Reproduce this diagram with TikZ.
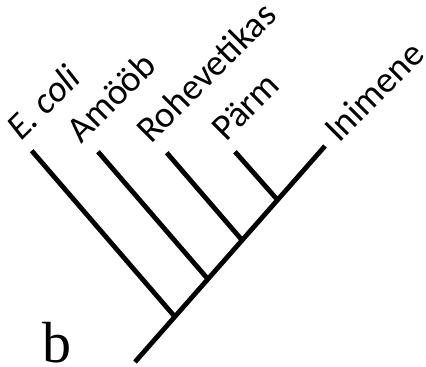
\documentclass[tikz,border=0pt]{standalone}
\usepackage{fontspec}
\setmainfont{Carlito}
\newfontfamily\letterfont{Liberation Serif}
\begin{document}
\begin{tikzpicture}[x=1pt,y=-1pt,
  branch/.style={line width=4.8pt},
  taxon/.style={rotate=45,anchor=base west,inner sep=0pt,font=\fontsize{37}{42}\selectfont},
  panel/.style={anchor=base west,inner sep=0pt,font=\letterfont\fontsize{58}{62}\selectfont}]
\useasboundingbox (0,0) rectangle (426,367);
% tree coordinates
\coordinate (root) at (135,362);
\coordinate (tip) at (325,146);
\coordinate (t1) at (31.7,150.7);
\coordinate (t2) at (98,151.7);
\coordinate (t3) at (166.7,152.7);
\coordinate (t4) at (235,151.7);
\coordinate (j1) at (174.8,316.7);
\coordinate (j2) at (207.9,279.1);
\coordinate (j3) at (242.1,240.2);
\coordinate (j4) at (277.1,199.4);
% edges
\draw[branch] (root) -- (tip);
\draw[branch] (t1) -- (j1);
\draw[branch] (t2) -- (j2);
\draw[branch] (t3) -- (j3);
\draw[branch] (t4) -- (j4);
% labels
\node[taxon] (ecoli) at (21,142) {\itshape E. coli};
\node[taxon] (amoob) at (81,145) {Amööb};
\node[taxon] (rohe) at (151,145) {Rohevetikas};
\node[taxon] (parm) at (226,143) {Pärm};
\node[taxon] (inim) at (339,144) {Inimene};
\node[panel] (b) at (42,362) {b};
\end{tikzpicture}
\end{document}
